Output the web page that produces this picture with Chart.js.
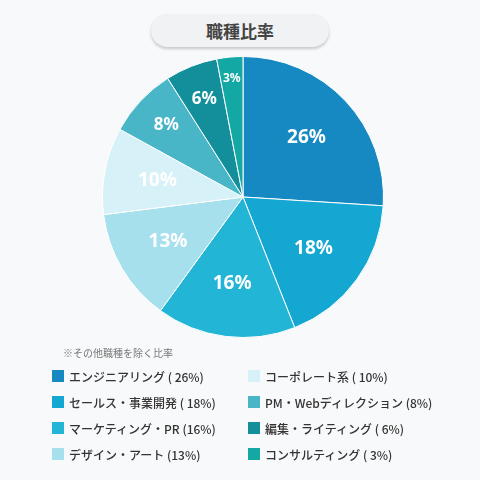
<!DOCTYPE html>
<html><head><meta charset="utf-8">
<script src="https://cdn.jsdelivr.net/npm/chart.js@4"></script>
<style>
body{margin:0;width:480px;height:480px;background:#f8f9fa;font-family:"Noto Sans CJK JP","Noto Sans",sans-serif;position:relative;overflow:hidden}
#title{position:absolute;left:151px;top:14px;width:178px;height:33px;border-radius:17px;background:#f1f2f3;box-shadow:0 2px 3px rgba(0,0,0,0.2);text-align:center;line-height:33px;font-size:17px;font-weight:bold;color:#444}
#wrap{position:absolute;left:93px;top:47px;width:300px;height:300px}
#note{position:absolute;left:63px;top:345px;font-size:10px;color:#777}
#legend{position:absolute;left:52px;top:367px;width:420px;display:grid;grid-template-columns:196px 200px;row-gap:8px;font-size:12px;color:#333;font-weight:500}
.it{display:flex;align-items:center;height:18px}
.sw{width:12px;height:12px;margin-right:5px}
</style></head><body>
<div id="title">職種比率</div>
<div id="wrap"><canvas id="c"></canvas></div>
<div id="note">※その他職種を除く比率</div>
<div id="legend"></div>
<script>
const categories=["エンジニアリング","セールス・事業開発","マーケティング・PR","デザイン・アート","コーポレート系","PM・Webディレクション","編集・ライティング","コンサルティング"];
const legendLabels=["エンジニアリング ( 26%)","セールス・事業開発 ( 18%)","マーケティング・PR (16%)","デザイン・アート (13%)","コーポレート系 ( 10%)","PM・Webディレクション (8%)","編集・ライティング ( 6%)","コンサルティング ( 3%)"];
const values=[26,18,16,13,10,8,6,3];
const colors=["#1689c3","#14a7d2","#23b5d6","#a6e0ed","#d7f1f8","#48b6c7","#138f9c","#14a8a4"];
const labelColors=["#fff","#fff","#fff","#fff","#fff","#fff","#fff","#fff"];
const labelPlugin={id:'lbl',afterDatasetsDraw(ch){const ctx=ch.ctx;const meta=ch.getDatasetMeta(0);
meta.data.forEach((a,i)=>{const v=values[i];const r=a.outerRadius*(v<5?0.85:v<9?0.75:0.62);const ang=(a.startAngle+a.endAngle)/2;
const x=a.x+Math.cos(ang)*r,y=a.y+Math.sin(ang)*r;ctx.save();ctx.fillStyle=labelColors[i];
ctx.font='bold '+(v<5?12:v<9?17:19)+'px "Noto Sans","Noto Sans CJK JP",sans-serif';ctx.textAlign='center';ctx.textBaseline='middle';ctx.fillText(v+'%',x,y);ctx.restore();});}};
new Chart(document.getElementById('c'),{type:'pie',data:{labels:categories,datasets:[{data:values,backgroundColor:colors,borderColor:'#fff',borderWidth:1}]},
options:{responsive:true,maintainAspectRatio:false,animation:false,layout:{padding:9},plugins:{legend:{display:false},tooltip:{enabled:false}}},plugins:[labelPlugin]});
const lg=document.getElementById('legend');
const order=[0,4,1,5,2,6,3,7];
order.forEach(i=>{const d=document.createElement('div');d.className='it';d.innerHTML='<span class="sw" style="background:'+colors[i]+'"></span>'+legendLabels[i];lg.appendChild(d);});
</script></body></html>
